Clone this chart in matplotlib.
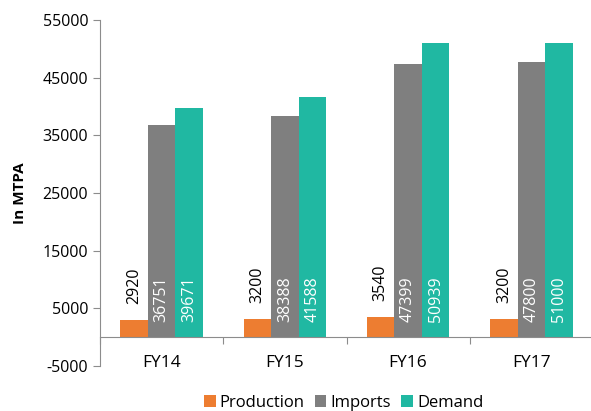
import numpy as np
import matplotlib.pyplot as plt

plt.rcParams['font.family'] = ['Open Sans', 'DejaVu Sans']
plt.rcParams['axes.unicode_minus'] = False

years = ['FY14', 'FY15', 'FY16', 'FY17']
production = [2920, 3200, 3540, 3200]
imports = [36751, 38388, 47399, 47800]
demand = [39671, 41588, 50939, 51000]

colors = ['#ED7D31', '#7F7F7F', '#20B8A2']
names = ['Production', 'Imports', 'Demand']

fig = plt.figure(figsize=(5.91, 4.11), dpi=100)
ax = fig.add_axes([100 / 591, 1 - 366 / 411, 493 / 591, 346 / 411])

x = np.arange(len(years))
w = 0.223
series = [production, imports, demand]
for k, (vals, c, n) in enumerate(zip(series, colors, names)):
    pos = x + (k - 1) * w
    ax.bar(pos, vals, width=w, color=c, label=n, zorder=2)
    for p, v in zip(pos, vals):
        if k == 0:
            # label above the bar
            ax.annotate(str(v), (p, v), xytext=(0, 11.5), textcoords='offset points',
                        rotation=90, ha='center', va='bottom', fontsize=11.5, color='black')
        else:
            ax.annotate(str(v), (p, 0), xytext=(0, 11), textcoords='offset points',
                        rotation=90, ha='center', va='bottom', fontsize=11.5, color='white')

ax.set_xlim(-0.5, 3.5)
ax.set_ylim(-5000, 55000)
ax.set_yticks(np.arange(-5000, 55001, 10000))
ax.set_ylabel('In MTPA', fontsize=11, fontweight='bold', labelpad=11)

for s in ['top', 'right']:
    ax.spines[s].set_visible(False)
ax.spines['bottom'].set_position(('data', 0))
ax.spines['bottom'].set_color('#8c8c8c')
ax.spines['left'].set_color('#8c8c8c')
ax.spines['left'].set_bounds(-5000, 55000)

ax.set_xticks([-0.5, 0.5, 1.5, 2.5])
ax.set_xticklabels([])
ax.tick_params(axis='x', length=5, color='#8c8c8c')
ax.tick_params(axis='y', length=5, color='#8c8c8c', labelsize=11.5)

for i, yr in enumerate(years):
    ax.text(i, -4400, yr, ha='center', va='center', fontsize=12.5)

ax.legend(loc='upper center', bbox_to_anchor=(0.494, -0.04), ncol=3, frameon=False,
          fontsize=12, handlelength=0.7, handleheight=0.7, handletextpad=0.25,
          columnspacing=0.6)

fig.savefig('out.png', dpi=100)
